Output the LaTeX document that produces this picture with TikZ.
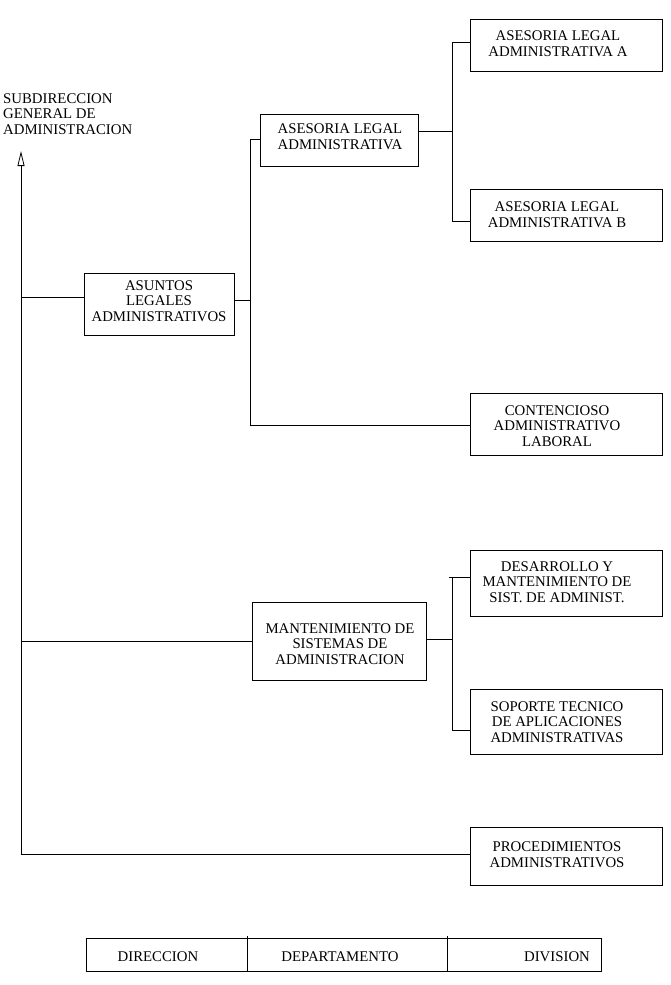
\documentclass[tikz,border=0pt]{standalone}
\usepackage{fontspec}
\setmainfont{Liberation Serif}
\usetikzlibrary{arrows.meta,calc}
\begin{document}
\begin{tikzpicture}[x=1pt,y=-1pt,
  box/.style={draw,line width=0.8pt,inner sep=0pt},
  txt/.style={align=center,inner sep=0pt,font=\fontsize{14.8}{15.6}\selectfont},
  ln/.style={line width=0.8pt}]
\useasboundingbox (0,0) rectangle (670,985);
% title
\node[txt,align=left,anchor=north west] (sub) at (3,93) {SUBDIRECCION\\GENERAL DE\\ADMINISTRACION};
% boxes
\node[box,minimum width=150,minimum height=62] (asu) at (159,304) {};
\node[txt] (asut) at (159,301) {ASUNTOS\\LEGALES\\ADMINISTRATIVOS};
\node[box,minimum width=158,minimum height=52] (ala) at (339,140) {};
\node[txt] (alat) at (340,137) {ASESORIA LEGAL\\ADMINISTRATIVA};
\node[box,minimum width=192,minimum height=52] (alaA) at (566,45) {};
\node[txt] (alaAt) at (558,44) {ASESORIA LEGAL\\ADMINISTRATIVA A};
\node[box,minimum width=192,minimum height=52] (alaB) at (566,215) {};
\node[txt] (alaBt) at (557,215) {ASESORIA LEGAL\\ADMINISTRATIVA B};
\node[box,minimum width=192,minimum height=62] (con) at (566,424) {};
\node[txt] (cont) at (557,426) {CONTENCIOSO\\ADMINISTRATIVO\\LABORAL};
\node[box,minimum width=174,minimum height=78] (man) at (339,641) {};
\node[txt] (mant) at (340,644) {MANTENIMIENTO DE\\SISTEMAS DE\\ADMINISTRACION};
\node[box,minimum width=192,minimum height=66] (des) at (566,583) {};
\node[txt] (dest) at (557,582) {DESARROLLO Y\\MANTENIMIENTO DE\\SIST. DE ADMINIST.};
\node[box,minimum width=192,minimum height=65] (sop) at (566,722) {};
\node[txt] (sopt) at (557,722) {SOPORTE TECNICO\\DE APLICACIONES\\ADMINISTRATIVAS};
\node[box,minimum width=192,minimum height=58] (pro) at (566,856) {};
\node[txt] (prot) at (557,855) {PROCEDIMIENTOS\\ADMINISTRATIVOS};
% main spine
\coordinate (tip) at (21,151);
\coordinate (bot) at (21,854);
\draw[ln,{Triangle[open,length=15pt,width=7pt]}-] (tip) -- (bot);
\draw[ln] (21,297) -- (asu.west |- 0,297);
\draw[ln] (21,641) -- (man.west);
\draw[ln] (bot) -- (pro.west |- bot);
% asuntos branch
\coordinate (v1t) at (250,139);
\coordinate (v1b) at (250,425);
\draw[ln] (asu.east |- 0,300) -- (250,300);
\draw[ln] (v1t) -- (v1b);
\draw[ln] (v1t) -- (ala.west |- v1t);
\draw[ln] (v1b) -- (con.west |- v1b);
% asesoria branch
\coordinate (v2t) at (452,42);
\coordinate (v2b) at (452,221);
\draw[ln] (ala.east |- 0,131) -- (452,131);
\draw[ln] (v2t) -- (v2b);
\draw[ln] (v2t) -- (alaA.west |- v2t);
\draw[ln] (v2b) -- (alaB.west |- v2b);
% mantenimiento branch
\coordinate (v3t) at (452,577);
\coordinate (v3b) at (452,730);
\draw[ln] (man.east |- 0,639) -- (452,639);
\draw[ln] (v3t) -- (v3b);
\draw[ln] (449,577) -- (des.west |- v3t);
\draw[ln] (v3b) -- (sop.west |- v3b);
% legend
\node[box,minimum width=515,minimum height=33] (leg) at (343.5,954.5) {};
\coordinate (d1) at (247,936);
\coordinate (d2) at (447,936);
\draw[ln] (d1) -- (d1 |- leg.south);
\draw[ln] (d2) -- (d2 |- leg.south);
\node[txt] (l1) at (158,957) {DIRECCION};
\node[txt] (l2) at (340,957) {DEPARTAMENTO};
\node[txt] (l3) at (557,957) {DIVISION};
\end{tikzpicture}
\end{document}
